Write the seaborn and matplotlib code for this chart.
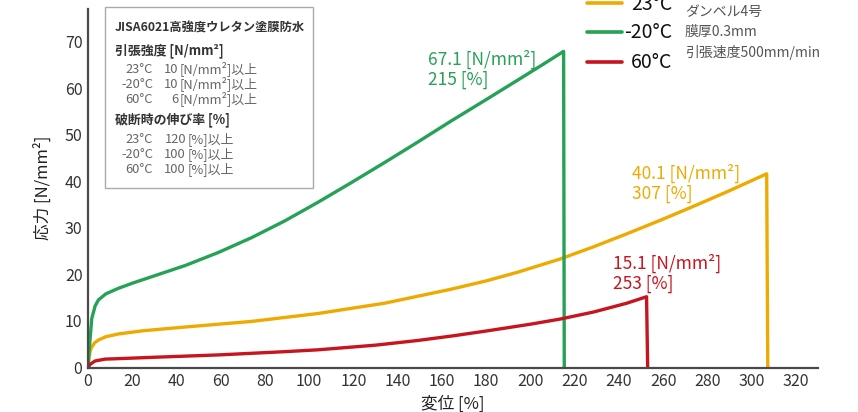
import numpy as np
import pandas as pd
import matplotlib
matplotlib.use("Agg")
import matplotlib.pyplot as plt
from matplotlib.lines import Line2D
from matplotlib.patches import Rectangle
import seaborn as sns

# ---- data ----
x_23 = [0, 0.5, 1, 1.7, 3, 4.7, 8, 13.7, 25, 44, 74, 104, 134, 164, 180, 194.5, 213.4, 228.4,
        243.5, 258.6, 273.6, 288.7, 306.8, 307.3]
y_23 = [0, 2.2, 3.6, 4.4, 5.3, 5.9, 6.6, 7.2, 7.9, 8.7, 9.9, 11.6, 13.8, 16.8, 18.6, 20.5, 23.3, 25.9,
        28.7, 31.6, 34.6, 37.7, 41.6, 0]

x_m20 = [0, 0.5, 1, 1.7, 3.2, 4.7, 8, 13.7, 20, 28.8, 43.9, 58.9, 74, 89, 104, 119, 134, 149,
         164, 179.5, 194.5, 205, 215, 215.3]
y_m20 = [0, 3.5, 6.5, 10.5, 13.2, 14.5, 15.8, 17.0, 18.1, 19.5, 21.9, 24.7, 27.9, 31.5, 35.5,
         39.7, 44.0, 48.4, 52.9, 57.4, 61.8, 64.9, 67.9, 0]

x_60 = [0, 1, 3.2, 7.7, 13.7, 30, 58.9, 89, 104, 130, 149, 165, 179.5, 200, 213.4, 228.4, 243.5,
        252.5, 253.0]
y_60 = [0, 0.7, 1.4, 1.8, 1.9, 2.2, 2.7, 3.4, 3.8, 4.8, 5.8, 6.8, 7.8, 9.3, 10.4, 11.9, 13.8,
        15.2, 0]

series_names = ["23°C", "-20°C", "60°C"]
series_colors = ["#eeaa00", "#25a256", "#c8141e"]

annot_stress = ["40.1", "67.1", "15.1"]
annot_elong = ["307", "215", "253"]

x_ticks = list(range(0, 321, 20))
y_ticks = list(range(0, 71, 10))

box_title = "JISA6021高強度ウレタン塗膜防水"
box_head1 = "引張強度 [N/mm²]"
box_head2 = "破断時の伸び率 [%]"
box_temps = ["23°C", "-20°C", "60°C"]
box_vals1 = ["10", "10", "6"]
box_vals2 = ["120", "100", "100"]

cond_lines = ["ダンベル4号", "膜厚0.3mm", "引張速度500mm/min"]

# ---- style ----
sns.set_theme(style="white")
plt.rcParams["font.family"] = ["Noto Sans CJK JP", "DejaVu Sans"]

W, H = 858, 412
fig = plt.figure(figsize=(W / 100, H / 100), dpi=100)
ax = fig.add_axes([88 / W, 1 - 367.5 / H, (818 - 88) / W, (367.5 - 9) / H])

def fx(px):
    return px / W

def fy(py):
    return 1 - py / H

frames = []
for name, xs, ys in zip(series_names, [x_23, x_m20, x_60], [y_23, y_m20, y_60]):
    frames.append(pd.DataFrame({"x": xs, "y": ys, "series": name}))
df = pd.concat(frames, ignore_index=True)

for name, col in zip(series_names, series_colors):
    sub = df[df["series"] == name]
    sns.lineplot(data=sub, x="x", y="y", color=col, lw=2.4, sort=False,
                 estimator=None, ax=ax, legend=False)

ax.set_xlim(0, 330)
ax.set_ylim(0, 77)
ax.set_xticks(x_ticks)
ax.set_yticks(y_ticks)
ax.tick_params(axis="both", length=0, labelsize=11.5, labelcolor="#333333", pad=4)
for s in ["top", "right"]:
    ax.spines[s].set_visible(False)
for s in ["left", "bottom"]:
    ax.spines[s].set_color("#4a4a4a")
    ax.spines[s].set_linewidth(1.6)
ax.set_xlabel("変位 [%]", fontsize=12, color="#222222", labelpad=4)
ax.set_ylabel("応力 [N/mm²]", fontsize=12, color="#222222", labelpad=9)
ax.grid(False)

# ---- annotations ----
ann_pos = [(632, 173, 193), (428, 59, 79), (613, 263, 283)]
for (px, py1, py2), s, e, col in zip(ann_pos, annot_stress, annot_elong, series_colors):
    fig.text(fx(px), fy(py1 + 6), f"{s} [N/mm²]", color=col, fontsize=12.5, va="baseline", ha="left")
    fig.text(fx(px), fy(py2 + 6), f"{e} [%]", color=col, fontsize=12.5, va="baseline", ha="left")

# ---- legend (manual) ----
leg_y = [3, 32, 62]
for yy, name, col in zip(leg_y, series_names, series_colors):
    fig.add_artist(Line2D([fx(587), fx(622)], [fy(yy), fy(yy)], color=col, lw=2.6,
                          transform=fig.transFigure))
    fig.text(fx(672), fy(yy + 1), name, fontsize=14, color="#111111", ha="right", va="center")

for yy, t in zip([12, 32, 52], cond_lines):
    fig.text(fx(685), fy(yy), t, fontsize=10, color="#555555", ha="left", va="center")

# ---- info box ----
fig.add_artist(Rectangle((fx(105), fy(188)), fx(313) - fx(105), fy(7) - fy(188),
                         transform=fig.transFigure, fill=True, facecolor="white",
                         edgecolor="#aaaaaa", lw=1.0))
fs = 9.3
b = 4  # baseline offset in px from line centre
fig.text(fx(115), fy(28 + b), box_title, fontsize=8.8, color="#333333", ha="left", va="baseline",
         fontweight="bold")
fig.text(fx(115), fy(50 + b), box_head1, fontsize=fs, color="#333333", ha="left", va="baseline",
         fontweight="bold")
for yy, t, v in zip([69, 84, 99], box_temps, box_vals1):
    fig.text(fx(153), fy(yy + b), t, fontsize=fs, color="#666666", ha="right", va="baseline")
    fig.text(fx(178), fy(yy + b), v, fontsize=fs, color="#666666", ha="right", va="baseline")
    fig.text(fx(180), fy(yy + b), "[N/mm²]以上", fontsize=fs, color="#666666", ha="left", va="baseline")
fig.text(fx(115), fy(119 + b), box_head2, fontsize=fs, color="#333333", ha="left", va="baseline",
         fontweight="bold")
for yy, t, v in zip([139, 154, 169], box_temps, box_vals2):
    fig.text(fx(153), fy(yy + b), t, fontsize=fs, color="#666666", ha="right", va="baseline")
    fig.text(fx(186), fy(yy + b), v, fontsize=fs, color="#666666", ha="right", va="baseline")
    fig.text(fx(188), fy(yy + b), "[%]以上", fontsize=fs, color="#666666", ha="left", va="baseline")

fig.savefig("out.png", dpi=100)
